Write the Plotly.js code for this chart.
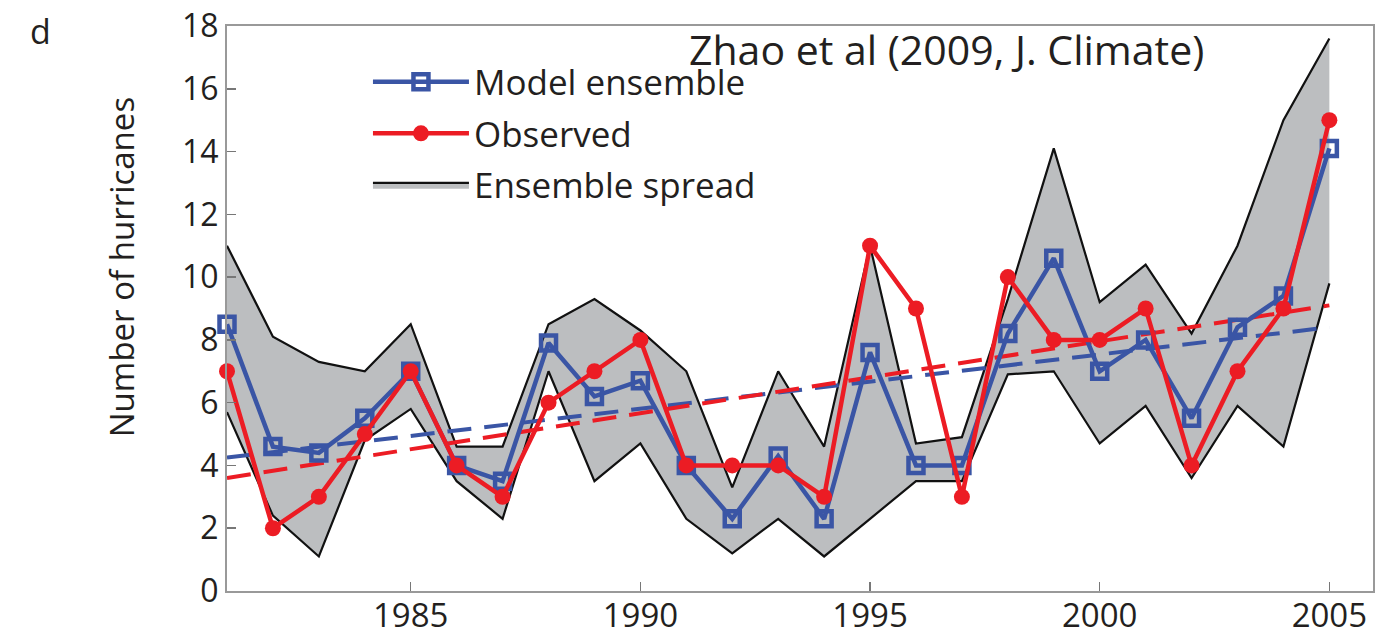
<!DOCTYPE html>
<html>
<head>
<meta charset="utf-8">
<script src="https://cdn.plot.ly/plotly-3.0.1.min.js"></script>
<style>html,body{margin:0;padding:0;background:#fff;}#chart{width:1377px;height:640px;}</style>
</head>
<body>
<div id="chart"></div>
<script>
var years = [1981,1982,1983,1984,1985,1986,1987,1988,1989,1990,1991,1992,1993,1994,1995,1996,1997,1998,1999,2000,2001,2002,2003,2004,2005];
var modelEnsemble = [8.5,4.6,4.4,5.5,7.0,4.0,3.5,7.9,6.2,6.7,4.0,2.3,4.3,2.3,7.6,4.0,4.0,8.2,10.6,7.0,8.0,5.5,8.4,9.4,14.1];
var observed = [7,2,3,5,7,4,3,6,7,8,4,4,4,3,11,9,3,10,8,8,9,4,7,9,15];
var spreadUpper = [11.0,8.1,7.3,7.0,8.5,4.6,4.6,8.5,9.3,8.3,7.0,3.3,7.0,4.6,11.0,4.7,4.9,9.3,14.1,9.2,10.4,8.2,11.0,15.0,17.6];
var spreadLower = [5.7,2.4,1.1,4.8,5.8,3.5,2.3,7.0,3.5,4.7,2.3,1.2,2.3,1.1,2.3,3.5,3.5,6.9,7.0,4.7,5.9,3.6,5.9,4.6,9.8];
var trendYears = [1981, 2005];
var modelTrend = [4.25, 8.4];
var observedTrend = [3.6, 9.1];
var xTicks = [1985,1990,1995,2000,2005];
var yTicks = [0,2,4,6,8,10,12,14,16,18];

var FONT = 'Open Sans, Noto Sans, sans-serif';
var BLUE = '#3a55a5';
var RED = '#ec1c24';
var GREY = '#bcbec0';
var INK = '#231f20';

var traces = [
  {x: years, y: spreadLower, type: 'scatter', mode: 'lines', line: {color: '#111', width: 2.2},
   showlegend: false, hoverinfo: 'skip', legendgroup: 'c'},
  {x: years, y: spreadUpper, type: 'scatter', mode: 'lines', fill: 'tonexty', fillcolor: GREY,
   line: {color: '#111', width: 2.2}, name: 'Ensemble spread', legendgroup: 'c', legendrank: 3},
  {x: trendYears, y: modelTrend, type: 'scatter', mode: 'lines', line: {color: BLUE, width: 4, dash: '24px,13px'},
   showlegend: false},
  {x: trendYears, y: observedTrend, type: 'scatter', mode: 'lines', line: {color: RED, width: 4, dash: '24px,13px'},
   showlegend: false},
  {x: years, y: modelEnsemble, type: 'scatter', mode: 'lines+markers', name: 'Model ensemble',
   line: {color: BLUE, width: 4.5}, marker: {symbol: 'square-open', size: 15, color: BLUE, line: {color: BLUE, width: 4.5}},
   cliponaxis: false, legendgroup: 'a', legendrank: 1},
  {x: years, y: observed, type: 'scatter', mode: 'lines+markers', name: 'Observed',
   line: {color: RED, width: 4.5}, marker: {symbol: 'circle', size: 16, color: RED},
   cliponaxis: false, legendgroup: 'b', legendrank: 2}
];

var layout = {
  width: 1377, height: 640,
  margin: {l: 227, r: 4, t: 26, b: 49},
  paper_bgcolor: '#fff', plot_bgcolor: '#fff',
  font: {family: FONT, color: INK, size: 30},
  showlegend: true,
  legend: {x: 0.123, y: 0.953, xanchor: 'left', yanchor: 'top', bgcolor: 'rgba(0,0,0,0)',
           font: {family: FONT, size: 35, color: INK}, traceorder: 'grouped', tracegroupgap: 3,
           itemwidth: 96},
  xaxis: {range: [1981, 2005.95], tickvals: xTicks, ticks: 'inside', ticklen: 9, tickwidth: 1.5, tickcolor: '#777',
          showline: true, mirror: true, linecolor: '#999', linewidth: 2, showgrid: false, zeroline: false,
          tickfont: {family: FONT, size: 33, color: INK}, ticklabelstandoff: -6},
  yaxis: {range: [0, 18], tickvals: yTicks, ticks: 'inside', ticklen: 9, tickwidth: 1.5, tickcolor: '#777',
          showline: true, mirror: true, linecolor: '#999', linewidth: 2, showgrid: false, zeroline: false,
          tickfont: {family: FONT, size: 32, color: INK}},
  annotations: [
    {text: 'Number of hurricanes', xref: 'paper', yref: 'paper', x: -0.0925, y: 0.573, xanchor: 'center', yanchor: 'middle',
     textangle: -90, showarrow: false, font: {family: FONT, size: 33, color: INK}},
    {text: 'Zhao et al (2009, J. Climate)', xref: 'paper', yref: 'paper', x: 0.628, y: 1.012, xanchor: 'center', yanchor: 'top',
     showarrow: false, font: {family: FONT, size: 41, color: INK}},
    {text: 'd', xref: 'paper', yref: 'paper', x: -0.163, y: 1.035, xanchor: 'center', yanchor: 'top',
     showarrow: false, font: {family: FONT, size: 34, color: INK}}
  ]
};

Plotly.newPlot('chart', traces, layout, {displayModeBar: false, staticPlot: true});
</script>
</body>
</html>
